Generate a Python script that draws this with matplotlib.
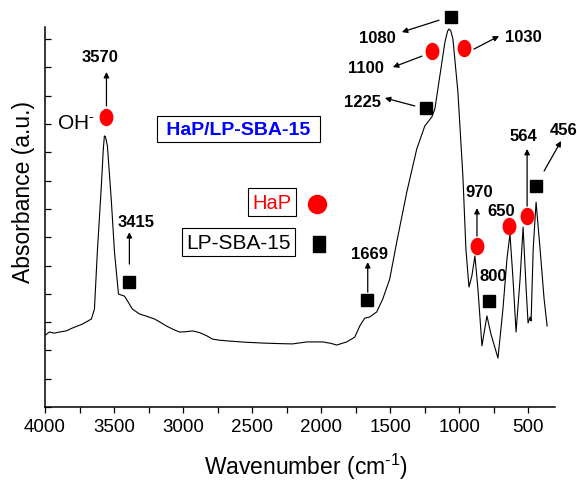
"""FTIR spectrum of HaP/LP-SBA-15 with HaP and LP-SBA-15 band assignments."""

import matplotlib
matplotlib.use("Agg")
import matplotlib.pyplot as plt
from matplotlib.path import Path
from matplotlib.transforms import Affine2D

plt.rcParams.update({
    "font.family": ["Liberation Sans", "DejaVu Sans"],
    "mathtext.fontset": "custom",
    "mathtext.rm": "Liberation Sans",
    "mathtext.it": "Liberation Sans:italic",
    "mathtext.bf": "Liberation Sans:bold",
})

# ---------------------------------------------------------------------------
# Data
# ---------------------------------------------------------------------------

wavenumber = [
    3998, 3969, 3933, 3896, 3846, 3802, 3729, 3664, 3642, 3621, 3592, 3578,
    3570, 3562, 3548, 3519, 3497, 3468, 3425, 3403, 3367, 3316, 3260, 3207,
    3160, 3120, 3070, 3026, 2980, 2932, 2881, 2830, 2787, 2736, 2663, 2550,
    2424, 2300, 2207, 2105, 1989, 1930, 1888, 1815, 1757,
    1721, 1685, 1649, 1598, 1554, 1504, 1453, 1380, 1308, 1250, 1199, 1177,
    1141, 1104, 1085, 1075, 1062, 1046, 1010, 974, 952, 930, 909, 887,
    865, 836, 800, 771, 720, 684, 655, 633, 611, 589, 560, 538,
    516, 502, 487, 480, 465, 444, 415, 386, 364,
]
absorbance = [
    2.54, 2.65, 2.61, 2.65, 2.69, 2.79, 2.93, 3.11, 3.46, 5.48, 7.81, 9.10,
    9.58, 9.55, 9.22, 7.24, 5.48, 3.99, 3.92, 3.75, 3.46, 3.29, 3.20, 3.11,
    2.98, 2.86, 2.74, 2.65, 2.66, 2.69, 2.63, 2.52, 2.40, 2.36, 2.33, 2.29,
    2.26, 2.24, 2.23, 2.30, 2.30, 2.25, 2.19, 2.30, 2.47,
    2.86, 3.14, 3.18, 3.36, 3.82, 4.52, 5.83, 7.60, 9.12, 9.93, 10.25, 10.53,
    11.70, 12.90, 13.28, 13.36, 13.30, 13.00, 11.13, 8.16, 5.58, 4.24, 4.63, 5.34,
    4.17, 2.16, 3.22, 2.58, 1.73, 3.46, 5.23, 6.11, 4.52, 2.65, 4.52, 6.36,
    4.17, 2.97, 3.18, 3.04, 5.58, 7.24, 5.58, 3.82, 2.86,
]

# band assignments: label, marker position, label position, arrow (start, end)
hap_labels = ["3570", "1100", "1030", "970", "650", "564"]
hap_wn = [3555, 1199, 967, 872, 640, 509]
hap_abs = [10.25, 12.58, 12.69, 5.69, 6.40, 6.75]
hap_text_wn = [3599, 1676, 539, 858, 698, 539]
hap_text_abs = [12.40, 12.01, 13.11, 7.60, 6.96, 9.58]
hap_arrows = [
    ((3555, 10.64), (3555, 11.84)),
    ((1271, 12.40), (1481, 12.01)),
    ((894, 12.65), (712, 13.11)),
    ((872, 6.04), (872, 7.03)),
    None,
    ((509, 7.10), (509, 9.12)),
]

sba_labels = ["3415", "1669", "1225", "1080", "800", "456"]
sba_wn = [3389, 1670, 1242, 1061, 785, 444]
sba_abs = [4.42, 3.78, 10.57, 13.78, 3.75, 7.81]
sba_text_wn = [3338, 1648, 1698, 1596, 757, 242]
sba_text_abs = [6.57, 5.44, 10.78, 13.07, 4.63, 9.79]
sba_arrows = [
    ((3389, 5.05), (3389, 6.18)),
    ((1663, 4.06), (1663, 5.12)),
    ((1322, 10.64), (1539, 10.92)),
    ((1147, 13.67), (1416, 13.25)),
    None,
    ((386, 8.34), (263, 9.40)),
]

RED = "#ff0000"
BLUE = "#0000ff"

# ellipse / tall-rect markers (the original was stretched vertically)
ellipse = Path.unit_circle().transformed(Affine2D().scale(0.78, 1.0))
tall_square = Path([(-0.37, -0.5), (0.37, -0.5), (0.37, 0.5), (-0.37, 0.5), (-0.37, -0.5)],
                   [Path.MOVETO, Path.LINETO, Path.LINETO, Path.LINETO, Path.CLOSEPOLY])

# ---------------------------------------------------------------------------
# Plot
# ---------------------------------------------------------------------------

fig = plt.figure(figsize=(5.77, 4.81), dpi=100)
ax = fig.add_axes([45 / 577, 73 / 481, 510 / 577, 380 / 481])

ax.plot(wavenumber, absorbance, color="black", lw=0.8)

ax.set_xlim(4000, 307)
ax.set_ylim(0, 13.43)
ax.set_xticks([4000, 3500, 3000, 2500, 2000, 1500, 1000, 500])
ax.set_xticks(range(3750, 300, -500), minor=True)
ax.set_yticks(range(0, 14))
ax.set_yticklabels([])
ax.tick_params(axis="x", direction="out", length=4, width=0.9, labelsize=13.5, pad=4)
ax.tick_params(axis="x", which="minor", direction="out", length=4, width=0.9)
ax.tick_params(axis="y", direction="in", length=4, width=0.9)
for side in ("top", "right"):
    ax.spines[side].set_visible(False)
for side in ("left", "bottom"):
    ax.spines[side].set_linewidth(1.1)

ax.set_xlabel(r"Wavenumber (cm$^{\text{-1}}$)", fontsize=16.5)
ax.xaxis.label.set_va("center")
ax.xaxis.set_label_coords(0.512, -0.155)
ax.set_ylabel("Absorbance (a.u.)", fontsize=16.5)
ax.yaxis.label.set_va("center")
ax.yaxis.set_label_coords(-0.043, 0.568)

ax.plot(hap_wn, hap_abs, ls="none", marker=ellipse, ms=11.5, color=RED, clip_on=False)
ax.plot(sba_wn, sba_abs, ls="none", marker="s", ms=8.8, color="black", clip_on=False)

arrow_kw = dict(arrowstyle="-|>", color="black", lw=0.9, mutation_scale=8,
                shrinkA=0, shrinkB=0)
for labels, twn, tab, arrows in (
    (hap_labels, hap_text_wn, hap_text_abs, hap_arrows),
    (sba_labels, sba_text_wn, sba_text_abs, sba_arrows),
):
    for lab, x, y, arr in zip(labels, twn, tab, arrows):
        ax.text(x, y, lab, fontsize=12, fontweight="bold", ha="center", va="center",
                clip_on=False)
        if arr is not None:
            ax.annotate("", xy=arr[1], xytext=arr[0], arrowprops=arrow_kw,
                        annotation_clip=False)

ax.text(3775, 10.04, r"OH$^{\text{-}}$", fontsize=15, ha="center", va="center")

box = dict(boxstyle="square,pad=0.22", fc="white", ec="black", lw=0.8)
ax.text(2598, 9.82, " HaP/LP-SBA-15 ", fontsize=14, fontweight="bold", color=BLUE,
        ha="center", va="center", bbox=box)
ax.text(2358, 7.24, "HaP", fontsize=14.5, color=RED, ha="center", va="center", bbox=box)
ax.text(2598, 5.83, "LP-SBA-15", fontsize=15, color="black", ha="center", va="center",
        bbox=box)
ax.plot([2032], [7.17], ls="none", marker="o", ms=13, color=RED)
ax.plot([2018], [5.76], ls="none", marker=tall_square, ms=12, color="black")

fig.savefig("out.png", dpi=100)
